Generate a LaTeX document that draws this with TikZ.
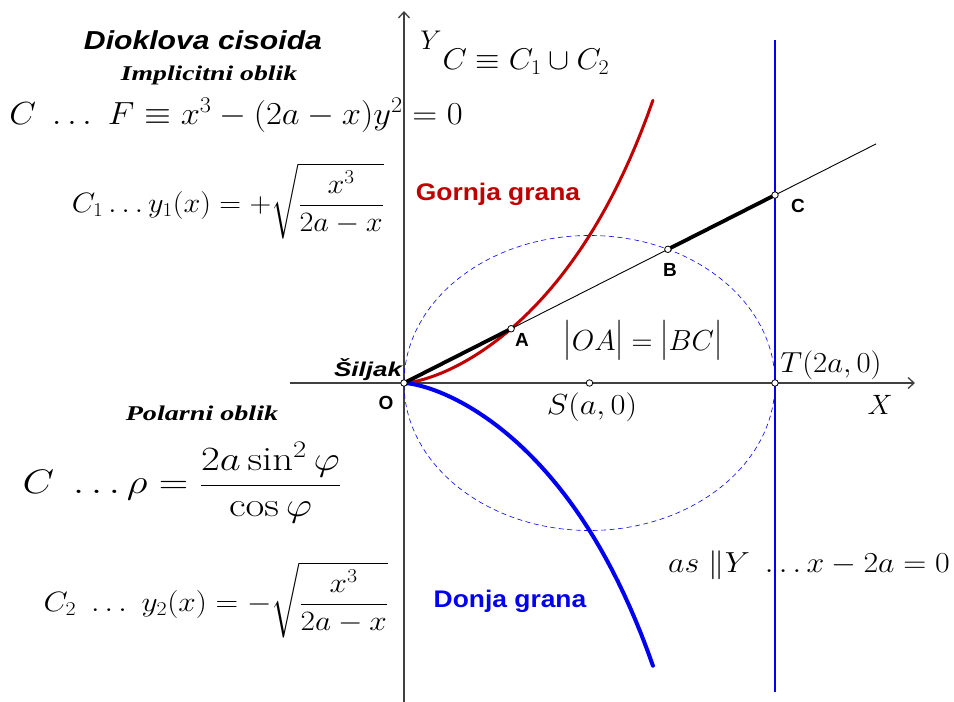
\documentclass[tikz,border=0pt]{standalone}
\usepackage{fix-cm}
\usepackage{amsmath}
\usepackage{fontspec}
\usetikzlibrary{arrows.meta}
\newfontfamily\arialf{Liberation Sans}
\newfontfamily\timesf{Liberation Serif}
\definecolor{grred}{RGB}{192,0,0}
\definecolor{grblue}{RGB}{0,0,240}
\newcommand{\fsz}[1]{\fontsize{#1}{#1}\selectfont}
\newcommand{\sx}[2]{\scalebox{#1}[1]{#2}}
\newcommand{\vb}{\scalebox{1}[1.4]{$|$}}

\begin{document}
\begin{tikzpicture}[x=1pt,y=1pt,every node/.style={inner sep=1pt},
  axis/.style={line width=1.3pt,black!75,-{Straight Barb[length=6pt,width=11pt]}},
  pnt/.style={circle,draw,fill=white,inner sep=0pt,minimum size=6.5pt,line width=0.8pt},
  seg/.style={line width=3.8pt},
  ptlbl/.style={font=\arialf\bfseries\fsz{19}},
  grana/.style={font=\arialf\bfseries\fsz{24}},
  naslov/.style={font=\timesf\bfseries\itshape\fsz{21}}]
\useasboundingbox (-404,-319) rectangle (550,383);
% osi
\coordinate (xl) at (-114,0);
\coordinate (xr) at (511,0);
\coordinate (yd) at (0,-319);
\coordinate (yg) at (0,372);
\draw[axis] (xl) -- (xr);
\draw[axis] (yd) -- (yg);
\node (lx) at (476,-22) {\fsz{28}$X$};
\node (ly) at (27,343) {\fsz{27}$Y$};
% krug, kriva, prava
\begin{scope}[x=185.5pt,y=147.5pt]
\coordinate (O) at (0,0);
\coordinate (S) at (1,0);
\coordinate (T) at (2,0);
\coordinate (A) at (0.5774,0.3678);
\coordinate (B) at (1.4226,0.9063);
\coordinate (C) at (2,1.2742);
\coordinate (E) at (2.545,1.621);
\coordinate (ag) at (2,2.325);
\coordinate (ad) at (2,-2.095);
\draw[grblue,line width=0.6pt,dash pattern=on 5pt off 3.5pt] (S) ellipse [x radius=185.5pt,y radius=147.5pt];
\draw[grblue,line width=1.2pt] (ad) -- (ag);
\draw[grred,line width=3pt,line cap=round] plot[domain=0:55,samples=60,variable=\t] ({2*sin(\t)^2},{2*sin(\t)^3/cos(\t)});
\draw[grblue,line width=4pt,line cap=round] plot[domain=0:55,samples=60,variable=\t] ({2*sin(\t)^2},{-2*sin(\t)^3/cos(\t)});
\draw[line width=0.9pt] (O) -- (E);
\draw[seg] (O) -- (A);
\draw[seg] (B) -- (C);
\end{scope}
% tacke
\node[pnt] (pO) at (O) {};
\node[pnt] (pA) at (A) {};
\node[pnt] (pB) at (B) {};
\node[pnt] (pC) at (C) {};
\node[pnt] (pS) at (S) {};
\node[pnt] (pT) at (T) {};
\node[ptlbl] (lA) at (118,43) {A};
\node[ptlbl] (lB) at (266,113) {B};
\node[ptlbl] (lC) at (394,177) {C};
\node[ptlbl] (lO) at (-18,-20) {O};
\node[font=\arialf\bfseries\itshape\fsz{20}] (lvrh) at (-36,13) {\sx{1.3}{Šiljak}};
\node (lS) at (188,-24) {\fsz{29}\sx{1.12}{$S(a,0)$}};
\node (lT) at (427,18) {\fsz{29}\sx{1.06}{$T(2a,0)$}};
\node (lOA) at (239,43) {\fsz{29}$\vb OA\vb=\vb BC\vb$};
\node[grana,text=grred] (lgor) at (94,189) {\sx{1.1}{Gornja grana}};
\node[grana,text=grblue] (ldon) at (106,-218) {\sx{1.1}{Donja grana}};
% formule
\node[font=\arialf\bfseries\itshape\fsz{26}] (title) at (-201,343) {\sx{1.16}{Dioklova cisoida}};
\node[naslov] (nimp) at (-195,308) {\sx{1.32}{Implicitni oblik}};
\node (fimp) at (-168,268) {\fsz{32}\sx{1.08}{$C\ \ldots\ F\equiv x^3-(2a-x)y^2=0$}};
\node (fc1) at (-176,182) {\fsz{28}\sx{1.08}{$C_1\ldots y_1(x)=+\sqrt{\dfrac{x^3}{2a-x}}$}};
\node (fun) at (122,321) {\fsz{30}\sx{1.05}{$C\equiv C_1\cup C_2$}};
\node[naslov] (npol) at (-202,-30) {\sx{1.34}{Polarni oblik}};
\node (fpol) at (-222,-100) {\fsz{34}\sx{1.2}{$C\ \ldots\rho=\dfrac{2a\sin^2\varphi}{\cos\varphi}$}};
\node (fc2) at (-188,-217) {\fsz{28}\sx{1.12}{$C_2\ \ldots\ y_2(x)=-\sqrt{\dfrac{x^3}{2a-x}}$}};
\node (fas) at (405,-182) {\fsz{29}\sx{1.1}{$as\ \|Y\ \ldots x-2a=0$}};
\end{tikzpicture}
\end{document}
